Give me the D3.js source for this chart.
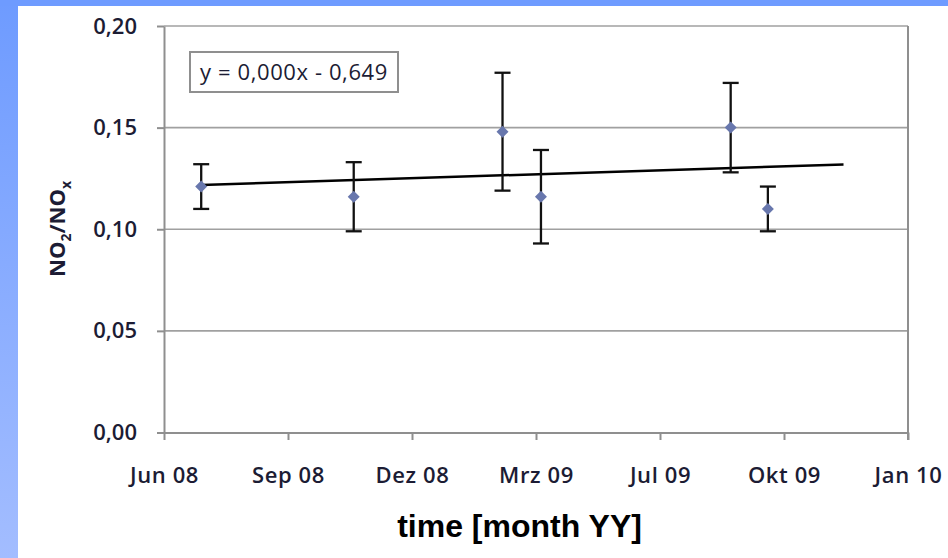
<!DOCTYPE html>
<html>
<head>
<meta charset="utf-8">
<script src="https://cdn.jsdelivr.net/npm/d3@7"></script>
<style>
  html, body { margin: 0; padding: 0; background: #ffffff; }
  svg { display: block; }
</style>
</head>
<body>
<svg id="chart" width="948" height="558"></svg>
<script>
// Measurement dates and NO2/NOx ratios with their error margins
const sampleDates = ["2008-07-01", "2008-11-01", "2009-03-01", "2009-04-01", "2009-09-01", "2009-10-01"];
const ratioValues = [0.121, 0.116, 0.148, 0.116, 0.150, 0.110];
const ratioErrors = [0.011, 0.017, 0.029, 0.023, 0.022, 0.011];

// Linear trend (x in spreadsheet day serials)
const trendSlope = 0.00001945;
const trendIntercept = -0.649;
const trendEndDate = "2009-12-01";

// Axis ticks
const xTickDates = ["2008-06-01", "2008-09-09", "2008-12-18", "2009-03-28", "2009-07-06", "2009-10-14", "2010-01-22"];
const xTickLabels = ["Jun 08", "Sep 08", "Dez 08", "Mrz 09", "Jul 09", "Okt 09", "Jan 10"];
const yTickValues = [0, 0.05, 0.10, 0.15, 0.20];
const yTickLabels = ["0,00", "0,05", "0,10", "0,15", "0,20"];

const parse = d3.utcParse("%Y-%m-%d");
const serialOrigin = Date.UTC(1899, 11, 30);
const toSerial = d => (d - serialOrigin) / 864e5;
const comma = s => s.replace(".", ",");

const svg = d3.select("#chart");
const W = 948, H = 558;

// Slide background: blue frame with a vertical gradient strip on the left
const defs = svg.append("defs");
const grad = defs.append("linearGradient").attr("id", "sideGrad")
  .attr("x1", 0).attr("y1", 0).attr("x2", 0).attr("y2", 1);
grad.append("stop").attr("offset", "0%").attr("stop-color", "#6e9bff");
grad.append("stop").attr("offset", "100%").attr("stop-color", "#a3bdff");
svg.append("rect").attr("width", W).attr("height", H).attr("fill", "url(#sideGrad)");
svg.append("rect").attr("x", 0).attr("y", 0).attr("width", W).attr("height", 6).attr("fill", "#6e9bff");
svg.append("rect").attr("x", 18).attr("y", 6).attr("width", W - 18).attr("height", H - 6).attr("fill", "#ffffff");

const plotL = 164, plotR = 908, plotT = 26, plotB = 432.5;

const x = d3.scaleUtc()
  .domain([parse(xTickDates[0]), parse(xTickDates[xTickDates.length - 1])])
  .range([plotL, plotR]);
const y = d3.scaleLinear().domain([0, 0.2]).range([plotB, plotT]);

const axisColor = "#8f8f8f";
const textColor = "#1c1c34";
const tickFont = "'Open Sans', sans-serif";

// Horizontal gridlines
svg.append("g").selectAll("line")
  .data(yTickValues.filter(v => v > 0))
  .join("line")
  .attr("x1", plotL).attr("x2", plotR)
  .attr("y1", d => y(d)).attr("y2", d => y(d))
  .attr("stroke", "#a0a0a0").attr("stroke-width", 1.6);

// Right border of the plot area
svg.append("line")
  .attr("x1", plotR).attr("x2", plotR).attr("y1", y(0.2)).attr("y2", plotB + 7.5)
  .attr("stroke", axisColor).attr("stroke-width", 2);

// Y axis
const yAxis = d3.axisLeft(y)
  .tickValues(yTickValues)
  .tickFormat((d, i) => yTickLabels[i])
  .tickSize(7).tickSizeOuter(0).tickPadding(20);
const gy = svg.append("g").attr("transform", `translate(${plotL},0)`).call(yAxis);
gy.select(".domain").attr("stroke", axisColor).attr("stroke-width", 2);
gy.selectAll(".tick line").attr("stroke", axisColor).attr("stroke-width", 2);
gy.selectAll(".tick text")
  .attr("fill", textColor).attr("font-family", tickFont)
  .attr("font-weight", 600).attr("font-size", 22);

// X axis
const xAxis = d3.axisBottom(x)
  .tickValues(xTickDates.map(parse))
  .tickFormat((d, i) => xTickLabels[i])
  .tickSize(7.5).tickSizeOuter(0).tickPadding(27);
const gx = svg.append("g").attr("transform", `translate(0,${plotB})`).call(xAxis);
gx.select(".domain").attr("stroke", axisColor).attr("stroke-width", 2);
gx.selectAll(".tick line").attr("stroke", axisColor).attr("stroke-width", 2);
gx.selectAll(".tick text")
  .attr("fill", textColor).attr("font-family", tickFont)
  .attr("font-weight", 600).attr("font-size", 22)
  .attr("letter-spacing", 0.6);

// Trend line
const d0 = parse(sampleDates[0]);
const d1 = parse(trendEndDate);
const trend = d => trendIntercept + trendSlope * toSerial(d);
svg.append("line")
  .attr("x1", x(d0)).attr("y1", y(trend(d0)))
  .attr("x2", x(d1)).attr("y2", y(trend(d1)))
  .attr("stroke", "#000000").attr("stroke-width", 2.5);

// Error bars
const pts = sampleDates.map((s, i) => ({ date: parse(s), v: ratioValues[i], e: ratioErrors[i] }));
const eb = svg.append("g").attr("stroke", "#111111").attr("stroke-width", 2.3);
pts.forEach(p => {
  const cx = x(p.date);
  eb.append("line").attr("x1", cx).attr("x2", cx).attr("y1", y(p.v + p.e)).attr("y2", y(p.v - p.e));
  eb.append("line").attr("x1", cx - 8).attr("x2", cx + 8).attr("y1", y(p.v + p.e)).attr("y2", y(p.v + p.e));
  eb.append("line").attr("x1", cx - 8).attr("x2", cx + 8).attr("y1", y(p.v - p.e)).attr("y2", y(p.v - p.e));
});

// Diamond markers
svg.append("g").selectAll("path")
  .data(pts)
  .join("path")
  .attr("d", d3.symbol().type(d3.symbolSquare).size(72))
  .attr("transform", d => `translate(${x(d.date)},${y(d.v)}) rotate(45)`)
  .attr("fill", "#6877ad");

// Trend equation label
const eq = `y = ${comma(trendSlope.toFixed(3))}x - ${comma(Math.abs(trendIntercept).toFixed(3))}`;
svg.append("rect")
  .attr("x", 190).attr("y", 52).attr("width", 208).attr("height", 40)
  .attr("fill", "#ffffff").attr("stroke", axisColor).attr("stroke-width", 2);
svg.append("text")
  .attr("x", 294).attr("y", 80)
  .attr("text-anchor", "middle")
  .attr("font-family", tickFont).attr("font-size", 22).attr("font-weight", 400)
  .attr("letter-spacing", 0.6)
  .attr("fill", textColor)
  .text(eq);

// Y axis title: NO2/NOx
const yt = svg.append("text")
  .attr("transform", `translate(65,229) rotate(-90)`)
  .attr("text-anchor", "middle")
  .attr("font-family", tickFont).attr("font-weight", 700).attr("font-size", 22)
  .attr("fill", textColor);
yt.append("tspan").text("NO");
yt.append("tspan").attr("font-size", 14).attr("dy", 6).text("2");
yt.append("tspan").attr("dy", -6).text("/NO");
yt.append("tspan").attr("font-size", 14).attr("dy", 6).text("x");

// X axis title
svg.append("text")
  .attr("x", 519.5).attr("y", 537)
  .attr("text-anchor", "middle")
  .attr("font-family", "'Liberation Sans', Arial, sans-serif")
  .attr("font-weight", 700).attr("font-size", 32)
  .attr("fill", "#000000")
  .text("time [month YY]");
</script>
</body>
</html>
